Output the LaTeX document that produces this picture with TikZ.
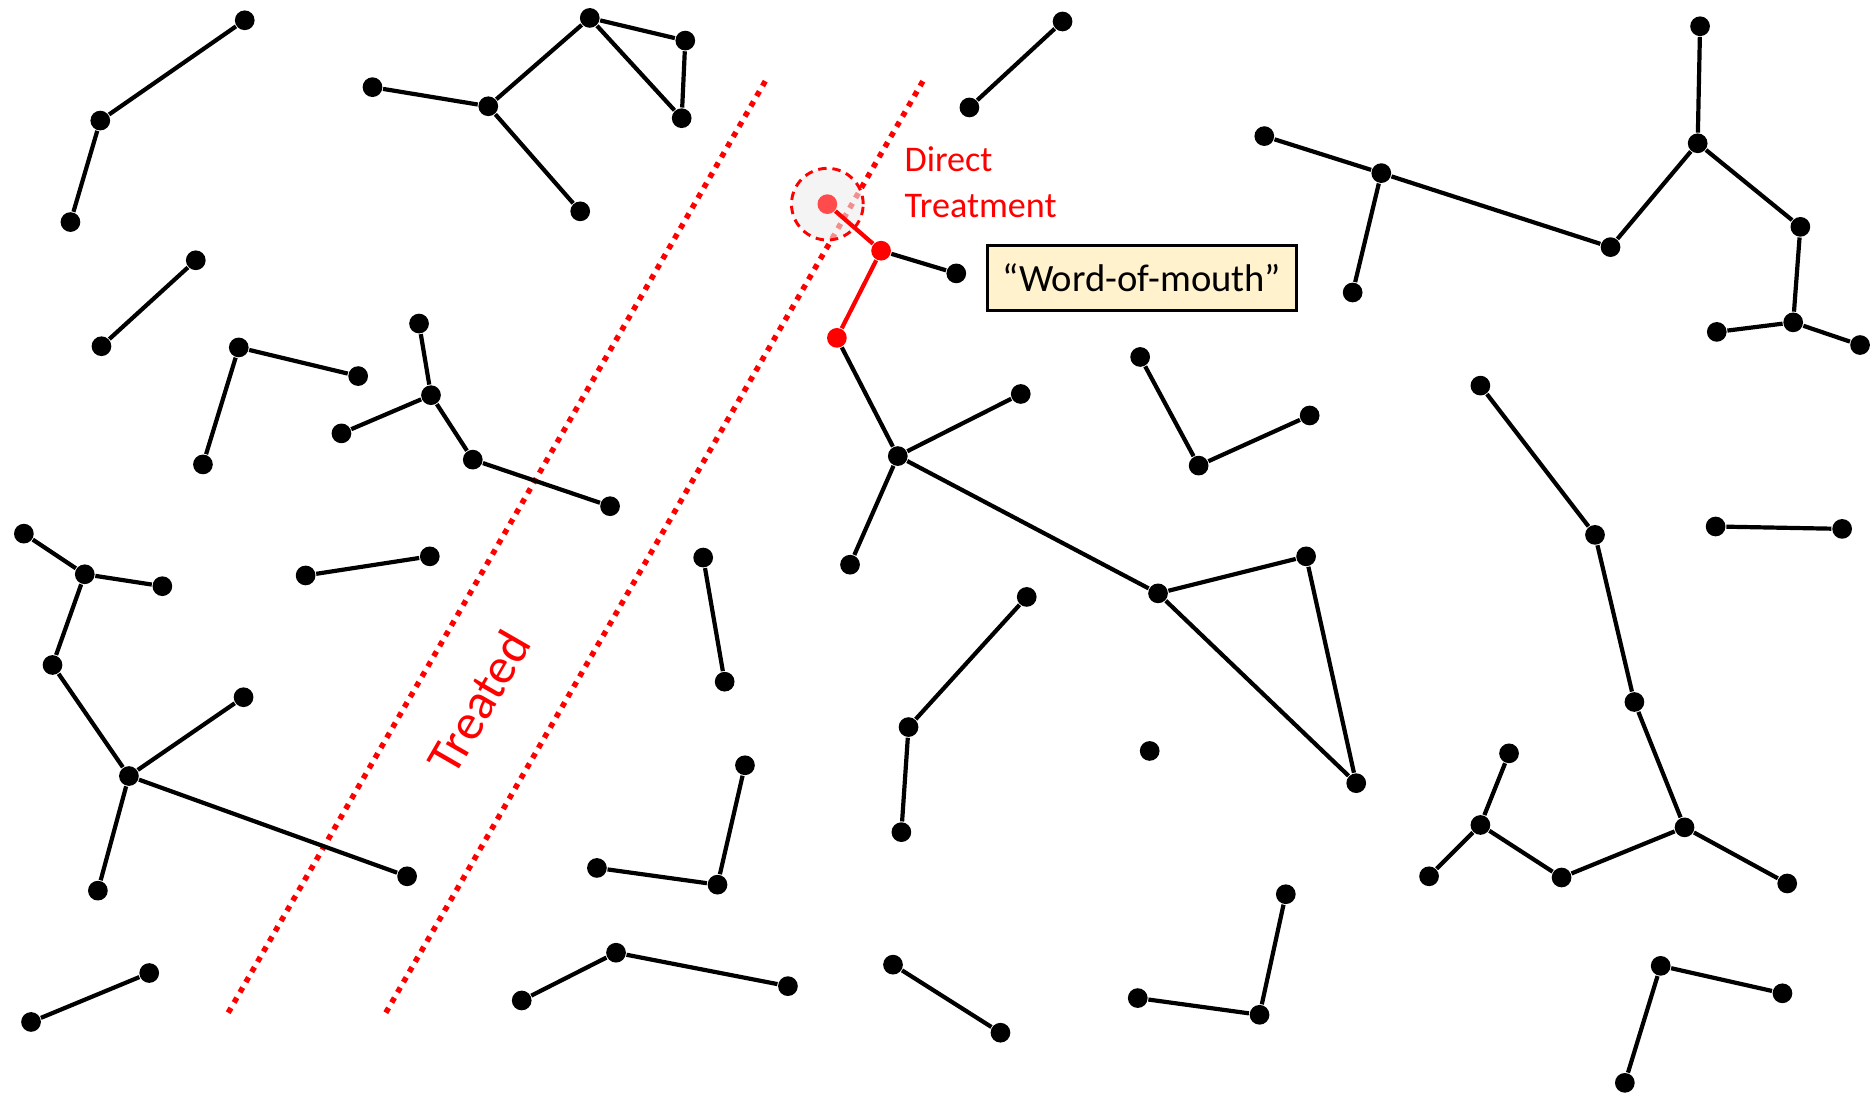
\documentclass[tikz,border=0pt]{standalone}
\usepackage{fontspec}
\setmainfont{Carlito}
\usepackage{tikz}
\usepackage{xcolor}
\usetikzlibrary{positioning}
\definecolor{Treat_Red}{HTML}{FF0000}
\definecolor{Treat_Pink}{HTML}{FF4B4B}
\definecolor{Zone_Gray}{HTML}{EDEDED}
\definecolor{Note_Cream}{HTML}{FFF2CC}

\tikzset{
    dot/.style={circle, fill=black, inner sep=0pt, minimum size=1.65mm},
    reddot/.style={dot, fill=Treat_Red},
    link/.style={line width=1pt, black},
    redlink/.style={line width=1pt, Treat_Red},
    border/.style={Treat_Red, line width=1.3pt, dash pattern=on 1.3pt off 1.5pt},
    notebox/.style={draw, line width=0.7pt, fill=Note_Cream, minimum width=2.59cm, minimum height=0.54cm, inner sep=0pt, font=\fontsize{9.2}{11}\selectfont}
}

\begin{document}
\begin{tikzpicture}[x=0.01cm, y=-0.01cm]
    \useasboundingbox (0,0) rectangle (1568,918);

    % Treated strip
    \coordinate (lt) at (641,68); \coordinate (lb) at (189,852);
    \coordinate (rt) at (773,68); \coordinate (rb) at (321,852);
    \draw[border] (lt) -- (lb);
    \draw[border] (rt) -- (rb);
    \node[Treat_Red, rotate=60, inner sep=0pt, font=\fontsize{12}{14}\selectfont] (treated) at (401,588) {Treated};

    % Direct treatment seed
    \node[circle, draw=Treat_Red, dashed, dash pattern=on 2pt off 1.4pt, line width=0.7pt, fill=Zone_Gray, fill opacity=0.6, minimum size=6mm] (zone) at (693,171) {};
    \node[dot, fill=Treat_Pink] (seed) at (693,171) {};
    \node[Treat_Red, anchor=base west, align=left, inner sep=0pt, font=\fontsize{8.6}{10.8}\selectfont] (dtlabel) at (757,182) {Direct\\Treatment};
    \node[reddot] (r1) at (738,210) {};
    \node[reddot] (r2) at (701,283) {};
    \draw[redlink] (seed) -- (r1) -- (r2);

    % Word-of-mouth cluster
    \node[dot] (k1) at (801,229) {};
    \node[dot] (i1) at (752,382) {}; \node[dot] (i2) at (855,330) {}; \node[dot] (i3) at (712,473) {};
    \node[dot] (i4) at (970,497) {}; \node[dot] (i5) at (1094,466) {}; \node[dot] (i6) at (1136,656) {};
    \draw[link] (r1) -- (k1);
    \draw[link] (r2) -- (i1) -- (i4) -- (i6) -- (i5) -- (i4);
    \draw[link] (i2) -- (i1) -- (i3);
    \node[notebox] (wom) at (956.5,233) {“Word-of-mouth”};

    % Left of the strip
    \node[dot] (a1) at (205,17) {}; \node[dot] (a2) at (84,101) {}; \node[dot] (a3) at (59,186) {};
    \draw[link] (a1) -- (a2) -- (a3);
    \node[dot] (b1) at (312,73) {}; \node[dot] (b2) at (409,89) {}; \node[dot] (b3) at (494,15) {};
    \node[dot] (b4) at (574,34) {}; \node[dot] (b5) at (571,99) {}; \node[dot] (b6) at (486,177) {};
    \draw[link] (b1) -- (b2) -- (b3) -- (b4) -- (b5) -- (b3);
    \draw[link] (b2) -- (b6);
    \node[dot] (c1) at (164,218) {}; \node[dot] (c2) at (85,290) {};
    \draw[link] (c1) -- (c2);
    \node[dot] (d1) at (200,291) {}; \node[dot] (d2) at (300,315) {}; \node[dot] (d3) at (170,389) {};
    \draw[link] (d2) -- (d1) -- (d3);
    \node[dot] (e1) at (351,271) {}; \node[dot] (e2) at (361,331) {}; \node[dot] (e3) at (286,363) {};
    \node[dot] (e4) at (396,385) {}; \node[dot] (e5) at (511,424) {};
    \draw[link] (e1) -- (e2) -- (e4) -- (e5);
    \draw[link] (e2) -- (e3);
    \node[dot] (f1) at (256,482) {}; \node[dot] (f2) at (360,466) {};
    \draw[link] (f1) -- (f2);
    \node[dot] (g1) at (20,447) {}; \node[dot] (g2) at (71,481) {}; \node[dot] (g3) at (136,491) {};
    \node[dot] (g4) at (44,557) {}; \node[dot] (g5) at (108,650) {}; \node[dot] (g6) at (204,584) {};
    \node[dot] (g7) at (82,746) {}; \node[dot] (g8) at (341,734) {};
    \draw[link] (g1) -- (g2) -- (g4) -- (g5) -- (g8);
    \draw[link] (g2) -- (g3);
    \draw[link] (g6) -- (g5) -- (g7);
    \node[dot] (h1) at (125,815) {}; \node[dot] (h2) at (26,856) {};
    \draw[link] (h1) -- (h2);

    % Right of the strip
    \node[dot] (j1) at (890,18) {}; \node[dot] (j2) at (812,90) {};
    \draw[link] (j1) -- (j2);
    \node[dot] (m1) at (1059,114) {}; \node[dot] (m2) at (1157,145) {}; \node[dot] (m3) at (1133,245) {};
    \node[dot] (m4) at (1349,207) {}; \node[dot] (m5) at (1422,120) {}; \node[dot] (m6) at (1424,22) {};
    \node[dot] (m7) at (1508,190) {}; \node[dot] (m8) at (1502,270) {}; \node[dot] (m9) at (1438,278) {};
    \node[dot] (m10) at (1558,289) {};
    \draw[link] (m1) -- (m2) -- (m4) -- (m5) -- (m6);
    \draw[link] (m2) -- (m3);
    \draw[link] (m5) -- (m7) -- (m8) -- (m9);
    \draw[link] (m8) -- (m10);
    \node[dot] (n1) at (955,299) {}; \node[dot] (n2) at (1004,390) {}; \node[dot] (n3) at (1097,348) {};
    \draw[link] (n1) -- (n2) -- (n3);
    \node[dot] (p1) at (589,467) {}; \node[dot] (p2) at (607,571) {};
    \draw[link] (p1) -- (p2);
    \node[dot] (q1) at (860,500) {}; \node[dot] (q2) at (761,609) {}; \node[dot] (q3) at (755,697) {};
    \draw[link] (q1) -- (q2) -- (q3);
    \node[dot] (lone) at (963,629) {};
    \node[dot] (s1) at (624,641) {}; \node[dot] (s2) at (601,741) {}; \node[dot] (s3) at (500,727) {};
    \draw[link] (s1) -- (s2) -- (s3);
    \node[dot] (t1) at (516,798) {}; \node[dot] (t2) at (437,838) {}; \node[dot] (t3) at (660,826) {};
    \draw[link] (t2) -- (t1) -- (t3);
    \node[dot] (u1) at (748,808) {}; \node[dot] (u2) at (838,865) {};
    \draw[link] (u1) -- (u2);
    \node[dot] (v1) at (1077,749) {}; \node[dot] (v2) at (1055,850) {}; \node[dot] (v3) at (953,836) {};
    \draw[link] (v1) -- (v2) -- (v3);
    \node[dot] (w1) at (1240,323) {}; \node[dot] (w2) at (1336,448) {}; \node[dot] (w3) at (1369,588) {};
    \node[dot] (w4) at (1411,693) {}; \node[dot] (w5) at (1308,735) {}; \node[dot] (w6) at (1240,691) {};
    \node[dot] (w7) at (1264,631) {}; \node[dot] (w8) at (1197,734) {}; \node[dot] (w9) at (1497,740) {};
    \draw[link] (w1) -- (w2) -- (w3) -- (w4) -- (w5) -- (w6) -- (w7);
    \draw[link] (w6) -- (w8);
    \draw[link] (w4) -- (w9);
    \node[dot] (x1) at (1437,441) {}; \node[dot] (x2) at (1543,443) {};
    \draw[link] (x1) -- (x2);
    \node[dot] (y1) at (1391,809) {}; \node[dot] (y2) at (1493,832) {}; \node[dot] (y3) at (1361,907) {};
    \draw[link] (y2) -- (y1) -- (y3);
\end{tikzpicture}
\end{document}
